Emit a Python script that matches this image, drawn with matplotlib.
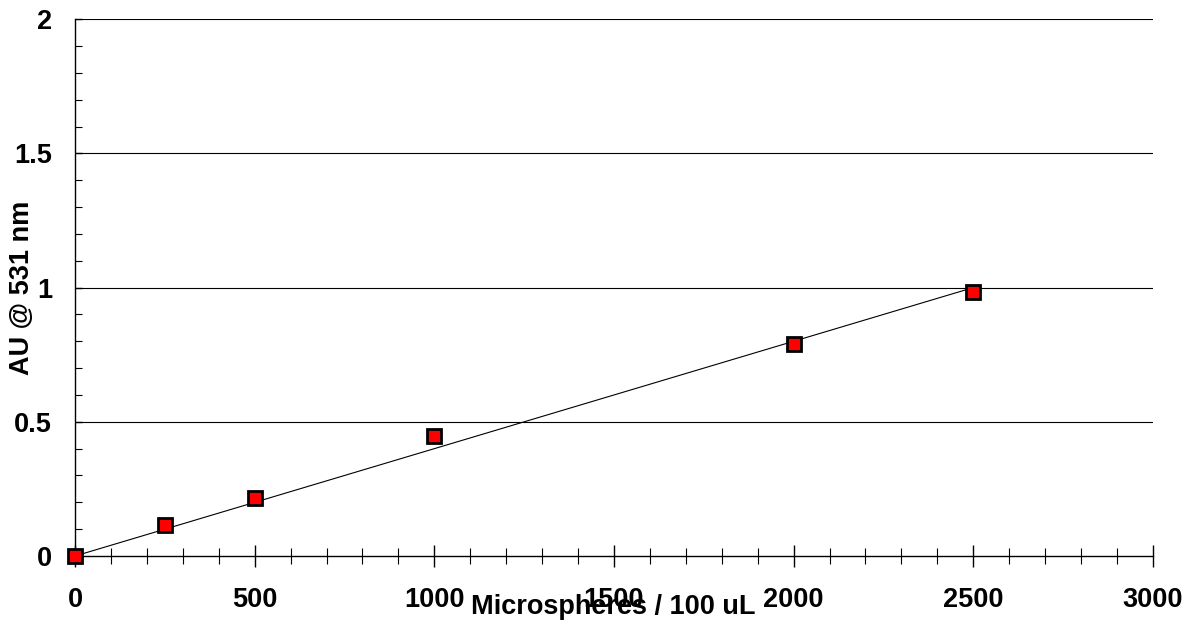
import matplotlib.pyplot as plt
import numpy as np

plt.rcParams['font.family'] = ['Liberation Sans', 'DejaVu Sans']
plt.rcParams['font.weight'] = 'bold'

# data
microspheres = np.array([0, 250, 500, 1000, 2000, 2500])
absorbance = np.array([0.0, 0.115, 0.215, 0.447, 0.79, 0.985])
x_ticks = [0, 500, 1000, 1500, 2000, 2500, 3000]
y_ticks = [0, 0.5, 1, 1.5, 2]
y_tick_labels = ['0', '0.5', '1', '1.5', '2']

fig = plt.figure(figsize=(11.95, 6.22), dpi=100)
ax = fig.add_axes([0.0628, 0.1061, 0.9020, 0.8629])

# linear fit through origin
slope = np.sum(microspheres * absorbance) / np.sum(microspheres ** 2)
fit_x = np.array([0, microspheres.max()])
ax.plot(fit_x, slope * fit_x, color='black', linewidth=0.8, zorder=3)

ax.plot(microspheres, absorbance, linestyle='none', marker='s', markersize=10.5,
        markerfacecolor='#ff0000', markeredgecolor='black', markeredgewidth=2.0,
        zorder=4, clip_on=False)

ax.set_xlim(0, 3000)
ax.set_ylim(0, 2)
ax.set_xticks(x_ticks)
ax.set_xticks(np.arange(0, 3001, 100), minor=True)
ax.set_yticks(y_ticks)
ax.set_yticklabels(y_tick_labels)
ax.set_yticks(np.arange(0, 2.01, 0.1), minor=True)

for y in y_ticks[1:]:
    ax.axhline(y, color='black', linewidth=0.8, zorder=1)

ax.spines['top'].set_visible(False)
ax.spines['right'].set_visible(False)
ax.spines['left'].set_linewidth(1.0)
ax.spines['bottom'].set_linewidth(1.0)

ax.tick_params(axis='x', which='major', direction='inout', length=16, width=1.0,
               pad=14, labelsize=19.5)
ax.tick_params(axis='x', which='minor', direction='inout', length=12, width=0.8)
ax.tick_params(axis='y', which='major', direction='in', length=5, width=1.0,
               pad=16.5, labelsize=19.5)
ax.tick_params(axis='y', which='minor', direction='in', length=5, width=0.8)

ax.set_xlabel('Microspheres / 100 uL', fontsize=19.5, fontweight='bold')
ax.xaxis.set_label_coords(0.499, -0.071)
ax.set_ylabel('AU @ 531 nm', fontsize=19.5, fontweight='bold')
ax.yaxis.set_label_coords(-0.037, 0.5)

fig.savefig('out.png', dpi=100)
